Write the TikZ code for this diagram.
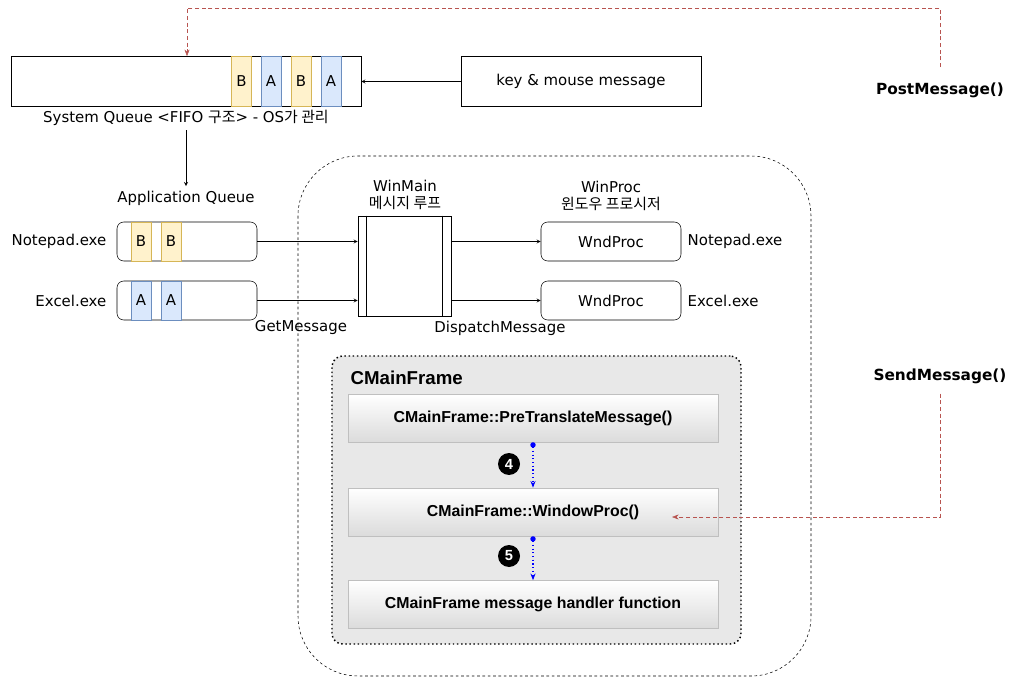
\documentclass[tikz,border=0pt]{standalone}
\usepackage{fontspec}
\setmainfont{DejaVu Sans}
\newfontfamily\kr{Noto Sans CJK KR}
\newfontfamily\arb{Liberation Sans}
\usetikzlibrary{arrows.meta}
\definecolor{ylwfill}{HTML}{FFF2CC}
\definecolor{ylwdraw}{HTML}{D6B656}
\definecolor{blufill}{HTML}{DAE8FC}
\definecolor{bludraw}{HTML}{6C8EBF}
\definecolor{msgred}{HTML}{B85450}
\tikzset{
  cellB/.style={draw=ylwdraw, fill=ylwfill, minimum width=15pt, inner sep=0pt},
  cellA/.style={draw=bludraw, fill=blufill, minimum width=15pt, inner sep=0pt},
  qbox/.style={draw, rounded corners=5pt, minimum width=105pt, minimum height=29.25pt},
  mfcbox/.style={draw=black!25, top color=white, bottom color=black!14, minimum width=277.5pt, minimum height=36pt, font=\arb\bfseries\fontsize{11.9}{14}\selectfont},
  numdot/.style={circle, fill=black, text=white, inner sep=0pt, minimum size=16.5pt, font=\arb\bfseries\fontsize{11}{13}\selectfont},
  redline/.style={msgred, dash pattern=on 3pt off 2pt, -{Stealth[length=5pt]}},
  blueline/.style={blue, dotted, thick, {Circle[length=4pt]}-{Stealth[length=5pt]}}
}
\begin{document}
\begin{tikzpicture}[x=0.75pt, y=-0.75pt, >=stealth, font=\fontsize{11.2}{13.2}\selectfont]
\useasboundingbox (0,0) rectangle (1032,677);
\draw[dash pattern=on 2pt off 2pt, rounded corners=45pt] (298,156) rectangle (811,676);
\node(CMF)[draw, fill=black!9, dotted, line width=1.1pt, rounded corners=8pt, minimum width=306.75pt, minimum height=216pt] at (536.5,500){};
\node[anchor=west, font=\arb\bfseries\fontsize{14}{16}\selectfont] at (346,378){CMainFrame};

\node(SQ)[draw, minimum width=262.5pt, minimum height=37.5pt] at (186,81.5){};
\node[cellB, minimum height=37.5pt] at (241.5,81.5){B};
\node[cellA, minimum height=37.5pt] at (271,81.5){A};
\node[cellB, minimum height=37.5pt] at (301,81.5){B};
\node[cellA, minimum height=37.5pt] at (331,81.5){A};
\node(SQL) at (186,118){System Queue <FIFO {\kr 구조}> - OS{\kr 가 관리}};
\node(KM)[draw, minimum width=180pt, minimum height=37.5pt] at (581,81.5){key \& mouse message};
\draw[->](KM)--(SQ);

\node(AQL) at (186,198){Application Queue};
\draw[->](SQL.south)--(AQL.north);
\node(NQ)[qbox] at (187,241.5){};
\node[cellB, minimum height=29.25pt] at (141,241.5){B};
\node[cellB, minimum height=29.25pt] at (171,241.5){B};
\node(EQ)[qbox] at (187,300.5){};
\node[cellA, minimum height=29.25pt] at (141,300.5){A};
\node[cellA, minimum height=29.25pt] at (171,300.5){A};
\node[anchor=east] at (111,241.5){Notepad.exe};
\node[anchor=east] at (111,300.5){Excel.exe};

\node(WM)[draw, minimum width=69.75pt, minimum height=75pt] at (404.5,266){};
\draw([xshift=6.75pt]WM.north west)--([xshift=6.75pt]WM.south west);
\draw([xshift=-6.75pt]WM.north east)--([xshift=-6.75pt]WM.south east);
\node[align=center] at (405,195){WinMain\\{\kr 메시지 루프}};
\draw[->](NQ.east)--(NQ.east -| WM.west);
\draw[->](EQ.east)--(EQ.east -| WM.west);
\node at (301,328){GetMessage};
\node at (500,328){DispatchMessage};

\node(NP)[qbox] at (611,241.5){WndProc};
\node(EX)[qbox] at (611,300.5){WndProc};
\node[align=center] at (611,196){WinProc\\{\kr 윈도우 프로시저}};
\node[anchor=west] at (683,241.5){Notepad.exe};
\node[anchor=west] at (683,300.5){Excel.exe};
\draw[->](NP.west -| WM.east)--(NP.west);
\draw[->](EX.west -| WM.east)--(EX.west);

\node(PT)[mfcbox] at (533,418){CMainFrame::PreTranslateMessage()};
\node(WP)[mfcbox] at (533,512){CMainFrame::WindowProc()};
\node(MH)[mfcbox] at (533,604.5){CMainFrame message handler function};
\draw[blueline](PT.south)--(WP.north);
\draw[blueline](WP.south)--(MH.north);
\node(N4)[numdot] at (509,464){4};
\node(N5)[numdot] at (509,556){5};

\node(PM)[font=\bfseries\fontsize{11.5}{13.5}\selectfont] at (940,90){PostMessage()};
\node(SM)[font=\bfseries\fontsize{11.5}{13.5}\selectfont] at (940,376){SendMessage()};
\coordinate(top) at (187,8);
\coordinate(wpin) at (672,517);
\draw[redline]([yshift=8pt]PM.north) |- (top) -- (top |- SQ.north);
\draw[redline]([yshift=-4pt]SM.south) |- (wpin);
\end{tikzpicture}
\end{document}
